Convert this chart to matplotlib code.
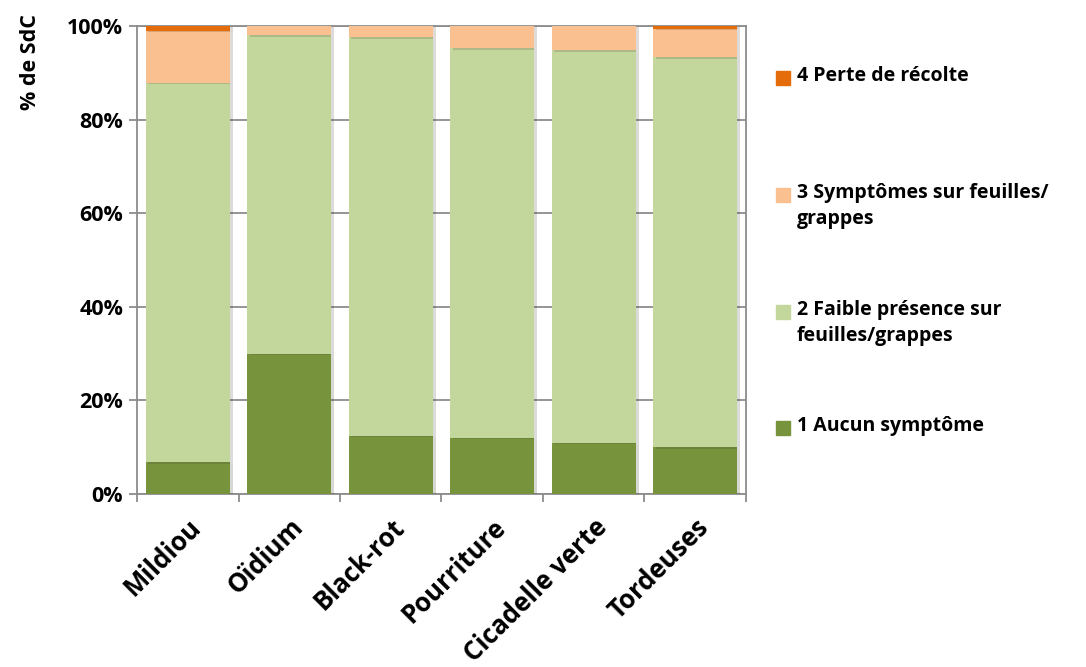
import matplotlib
matplotlib.use('Agg')
import matplotlib.pyplot as plt
import matplotlib.patheffects as pe
import numpy as np

plt.rcParams['font.family'] = ['Open Sans', 'DejaVu Sans']
plt.rcParams['font.weight'] = 'bold'

categories = ['Mildiou', 'Oïdium', 'Black-rot', 'Pourriture', 'Cicadelle verte', 'Tordeuses']
aucun = [6.8, 29.9, 12.5, 12.0, 11.0, 10.0]
faible = [81.0, 68.1, 85.1, 83.2, 83.8, 83.3]
symptomes = [11.2, 2.0, 2.4, 4.8, 5.2, 6.1]
perte = [1.0, 0.0, 0.0, 0.0, 0.0, 0.6]

series = [
    ('1 Aucun symptôme', aucun, '#77933C'),
    ('2 Faible présence sur\nfeuilles/grappes', faible, '#C3D69B'),
    ('3 Symptômes sur feuilles/\ngrappes', symptomes, '#FAC090'),
    ('4 Perte de récolte', perte, '#E46C0A'),
]

fig = plt.figure(figsize=(10.86, 6.67), dpi=100)
ax = fig.add_axes([137 / 1086, 1 - 494 / 667, 609 / 1086, 468 / 667])

x = np.arange(len(categories))
bottom = np.zeros(len(categories))
shadow = [pe.SimplePatchShadow(offset=(2, -1), alpha=0.18), pe.Normal()]
for name, vals, col in series:
    vals = np.array(vals)
    ax.bar(x, vals, 0.83, bottom=bottom, color=col, zorder=3, path_effects=shadow)
    bottom += vals

ax.set_xlim(-0.5, len(categories) - 0.5)
ax.set_ylim(0, 100)
ax.set_yticks(np.arange(0, 101, 20))
ax.set_yticklabels([f'{v}%' for v in range(0, 101, 20)], fontsize=15.5, fontweight='bold')
ax.yaxis.grid(True, color='#8C8C8C', lw=1.3, zorder=0)
ax.tick_params(axis='y', length=6, width=1.3, color='#8C8C8C', pad=4)

ax.set_xticks(x)
ax.set_xticklabels(categories, rotation=45, ha='right', rotation_mode='anchor',
                   fontsize=18.5, fontweight='bold')
ax.tick_params(axis='x', length=0, pad=14)
ax.set_xticks(np.arange(-0.5, len(categories)), minor=True)
ax.tick_params(axis='x', which='minor', length=6, width=1.3, color='#8C8C8C')

for s in ax.spines.values():
    s.set_color('#8C8C8C')
    s.set_linewidth(1.3)

fig.text(30 / 1086, 1 - 62 / 667, '% de SdC', rotation=90, ha='center', va='center',
         fontsize=15.5, fontweight='bold')

# legend drawn by hand to match the wide spacing
leg_y = [78, 195, 312, 428]
for (name, vals, col), yy in zip(series[::-1], leg_y):
    fig.patches.append(plt.Rectangle((776 / 1086, 1 - (yy + 7) / 667), 14 / 1086, 14 / 667,
                                     transform=fig.transFigure, color=col, figure=fig))
    fig.text(797 / 1086, 1 - (yy - 12) / 667, name, ha='left', va='top', fontsize=14,
             fontweight='bold', linespacing=1.4)

fig.savefig('out.png', dpi=100, facecolor='white')
